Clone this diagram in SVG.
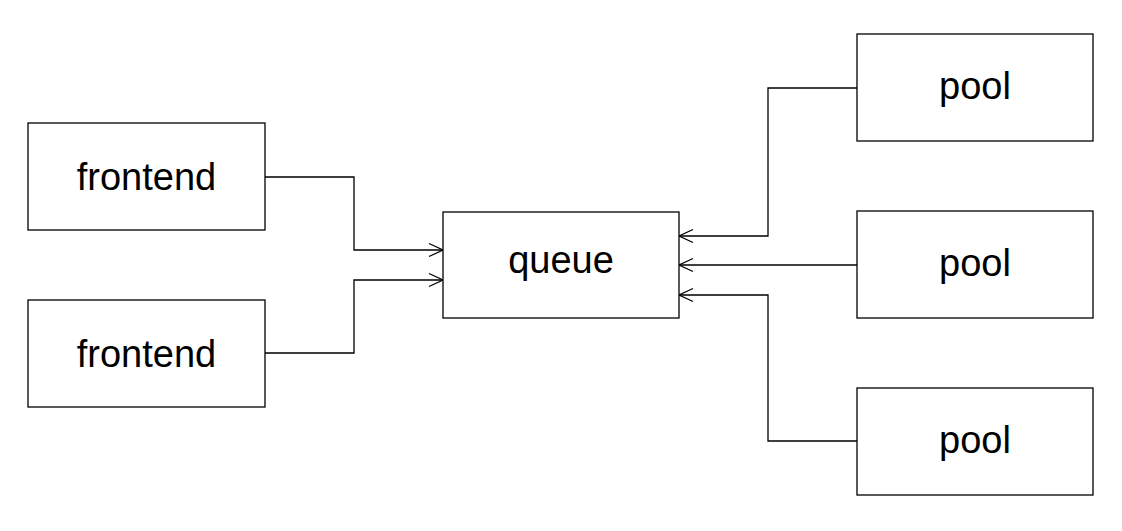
<svg xmlns="http://www.w3.org/2000/svg" width="1122" height="531" viewBox="0 0 1122 531">
<style>
.box{fill:#fff;stroke:#000;stroke-width:1.3}
.lbl{font-family:"Liberation Sans",Arial,sans-serif;font-size:38px;fill:#000;text-anchor:middle;dominant-baseline:central}
.edge{fill:none;stroke:#000;stroke-width:1.3;marker-end:url(#arr)}
</style>
<defs>
<marker id="arr" viewBox="0 0 16 16" refX="15" refY="8" markerWidth="16" markerHeight="16" markerUnits="userSpaceOnUse" orient="auto">
<path d="M1,1.5 L15,8 L1,14.5" fill="none" stroke="#000" stroke-width="1.3"/>
</marker>
</defs>
<rect width="1122" height="531" fill="#fff"/>
<g id="connectors">
<path class="edge" d="M265,177 H354 V250 H443"/>
<path class="edge" d="M265,353 H354 V280 H443"/>
<path class="edge" d="M857,88 H768 V236 H679"/>
<path class="edge" d="M857,265 H679"/>
<path class="edge" d="M857,441 H768 V295 H679"/>
</g>
<g id="frontend1"><rect class="box" x="28" y="123" width="237" height="107"/><text class="lbl" x="146.5" y="177">frontend</text></g>
<g id="frontend2"><rect class="box" x="28" y="300" width="237" height="107"/><text class="lbl" x="146.5" y="354">frontend</text></g>
<g id="queue"><rect class="box" x="443" y="212" width="236" height="106"/><text class="lbl" x="561" y="260">queue</text></g>
<g id="pool1"><rect class="box" x="857" y="34" width="236" height="107"/><text class="lbl" x="975" y="86">pool</text></g>
<g id="pool2"><rect class="box" x="857" y="211" width="236" height="107"/><text class="lbl" x="975" y="263">pool</text></g>
<g id="pool3"><rect class="box" x="857" y="388" width="236" height="107"/><text class="lbl" x="975" y="440">pool</text></g>
</svg>
